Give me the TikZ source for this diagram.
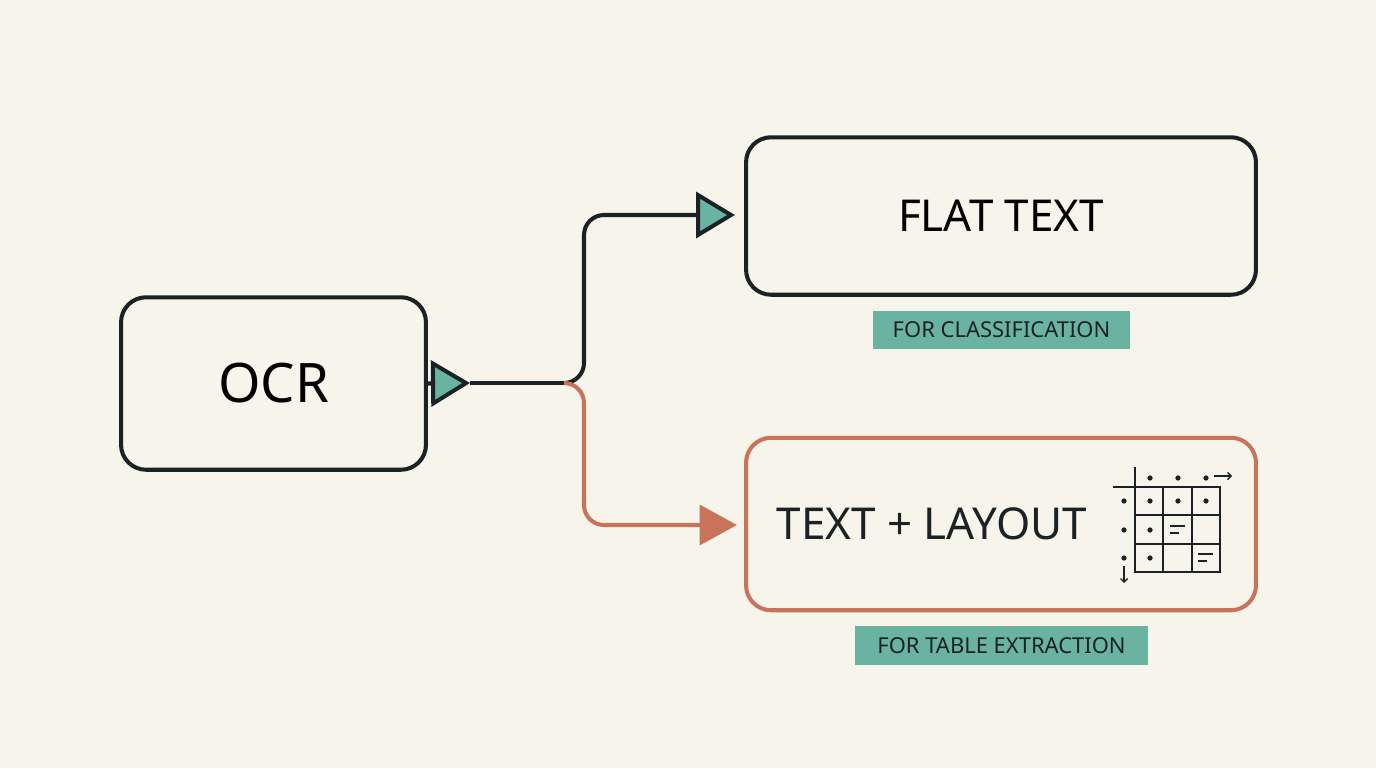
\documentclass[tikz,border=0pt]{standalone}
\usepackage{fontspec}
\setmainfont{Noto Sans}
\usetikzlibrary{arrows.meta}
\definecolor{bgcol}{HTML}{F7F4EC}
\definecolor{ink}{HTML}{1A2226}
\definecolor{teal}{HTML}{6AB3A0}
\definecolor{rust}{HTML}{C8735A}
\tikzset{
  box/.style={draw=ink, line width=2.3pt, rounded corners=0.5cm, align=center},
  tag/.style={fill=teal, inner sep=0pt, font=\fontsize{12.5}{14}\selectfont, text=ink},
  tealtip/.style={-{Triangle[length=0.78cm,width=0.92cm,fill=teal]}},
  rusttip/.style={-{Triangle[length=0.75cm,width=0.8cm,fill=rust]}}
}
\begin{document}
\begin{tikzpicture}[x=0.02cm,y=-0.02cm]

	% fond
	\fill[bgcol] (0,0) rectangle (1376,768);

	% boites
	\node[box, minimum width=6.1cm, minimum height=3.45cm, font=\fontsize{31}{36}\selectfont] (ocr) at (273.5,383.5) {OCR};
	\node[box, minimum width=10.2cm, minimum height=3.15cm, font=\fontsize{25}{30}\selectfont] (flat) at (1001,216) {FLAT TEXT};
	\node[box, draw=rust, minimum width=10.2cm, minimum height=3.45cm] (layout) at (1001,524) {};
	\node[font=\fontsize{25}{30}\selectfont, text=ink] (layouttxt) at (932,524) {TEXT + LAYOUT};

	% etiquettes
	\node[tag, minimum width=5.14cm, minimum height=0.76cm] (classlbl) at (1001.5,330) {FOR CLASSIFICATION};
	\node[tag, minimum width=5.86cm, minimum height=0.78cm] (tablelbl) at (1001.5,645.5) {FOR TABLE EXTRACTION};

	% fleches
	\coordinate (split) at (565,383);
	\coordinate (ocrtip) at (470,383);
	\coordinate (flattip) at (735,215);
	\coordinate (layouttip) at (737,525);
	\draw[ink, line width=2.3pt, tealtip] (ocr.east) -- (ocrtip);
	\draw[ink, line width=2.3pt] (ocrtip) -- (split);
	\draw[ink, line width=2.3pt, rounded corners=0.4cm, tealtip] (split) -| (584,215) -- (flattip);
	\draw[rust, line width=2.3pt, rounded corners=0.4cm, rusttip] (split) -| (584,525) -- (layouttip);

	% icone tableau
	\begin{scope}[ink, line width=0.8pt]
		\draw (1135,487) rectangle (1220,572);
		\foreach \k in {1163,1192} \draw (\k,487) -- (\k,572);
		\foreach \k in {515,544} \draw (1135,\k) -- (1220,\k);
		\draw (1135,467) -- (1135,487) -- (1113,487);
		\draw[-{Straight Barb[length=2pt]}] (1214,476) -- (1232,476);
		\draw[-{Straight Barb[length=2pt]}] (1124,566) -- (1124,583);
		\foreach \p in {(1150,478),(1178,478),(1206,478),(1124,501),(1124,530),(1124,558),
			(1150,501),(1178,501),(1206,501),(1150,530),(1150,558)}
			\fill \p circle (1.5pt);
		\draw (1170,526) -- (1185,526) (1170,533) -- (1179,533);
		\draw (1198,554) -- (1213,554) (1198,561) -- (1207,561);
	\end{scope}

\end{tikzpicture}
\end{document}
